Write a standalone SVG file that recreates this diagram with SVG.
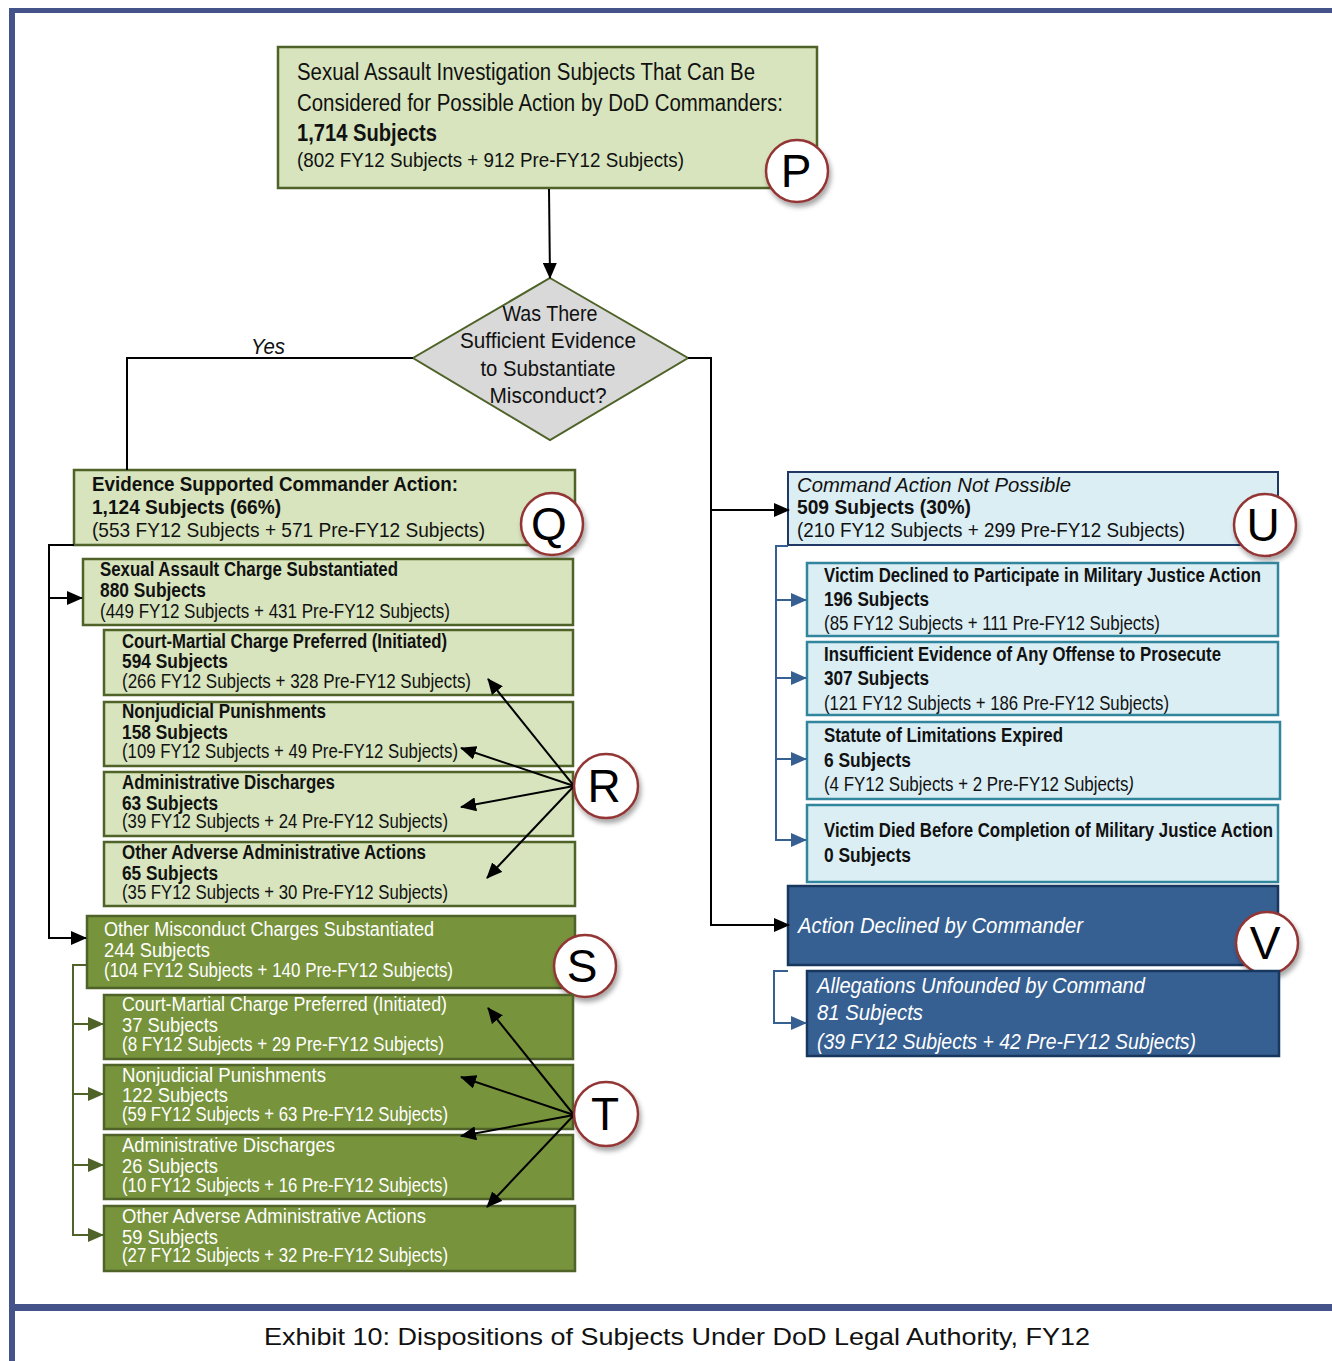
<svg xmlns="http://www.w3.org/2000/svg" width="1332" height="1361" viewBox="0 0 1332 1361">
<style>
text{font-family:"Liberation Sans",Arial,sans-serif;fill:#111;}
.lg{fill:#D7E4BD;stroke:#4F6228;stroke-width:2.5;}
.dg{fill:#77933C;stroke:#4F6228;stroke-width:2.5;}
.lb{fill:#DBEEF4;stroke:#31859C;stroke-width:2.5;}
.lbh{fill:#DBEEF4;stroke:#1F3864;stroke-width:2;}
.db{fill:#376092;stroke:#17375E;stroke-width:2.5;}
.w{fill:#fff;}
.b{font-weight:bold;}
.i{font-style:italic;}
.circ{fill:#fff;stroke:#943634;stroke-width:2.5;filter:url(#sh);}
.cl{font-size:46px;text-anchor:middle;fill:#000;}
.k{fill:none;stroke:#000;stroke-width:2;}
.g{fill:none;stroke:#4F6228;stroke-width:2;}
.bl{fill:none;stroke:#366092;stroke-width:2;}
</style>
<defs>
<filter id="sh" x="-30%" y="-30%" width="170%" height="170%">
<feDropShadow dx="2" dy="4" stdDeviation="2.5" flood-color="#000" flood-opacity="0.35"/>
</filter>
<marker id="ak" markerUnits="userSpaceOnUse" markerWidth="16" markerHeight="14" refX="15" refY="7" orient="auto"><path d="M0,0 L16,7 L0,14 Z" fill="#000"/></marker>
<marker id="ag" markerUnits="userSpaceOnUse" markerWidth="16" markerHeight="14" refX="15" refY="7" orient="auto"><path d="M0,0 L16,7 L0,14 Z" fill="#4F6228"/></marker>
<marker id="ab" markerUnits="userSpaceOnUse" markerWidth="16" markerHeight="14" refX="15" refY="7" orient="auto"><path d="M0,0 L16,7 L0,14 Z" fill="#366092"/></marker>
</defs>
<rect width="1332" height="1361" fill="#fff"/>
<!-- frame -->
<rect x="9" y="8" width="1323" height="5" fill="#44548B"/>
<rect x="9" y="8" width="6" height="1353" fill="#44548B"/>
<rect x="9" y="1304" width="1323" height="7" fill="#44548B"/>
<text x="677" y="1345" font-size="24" text-anchor="middle" textLength="826" lengthAdjust="spacingAndGlyphs">Exhibit 10:  Dispositions of Subjects Under DoD Legal Authority, FY12</text>

<g id="nodeP">
<rect class="lg" x="278" y="47" width="539" height="141"/>
<text x="297" y="80" font-size="23" textLength="458" lengthAdjust="spacingAndGlyphs">Sexual Assault  Investigation  Subjects  That Can Be</text>
<text x="297" y="111" font-size="23" textLength="486" lengthAdjust="spacingAndGlyphs">Considered for  Possible  Action  by DoD  Commanders:</text>
<text x="297" y="141" font-size="23" class="b" textLength="140" lengthAdjust="spacingAndGlyphs">1,714 Subjects</text>
<text x="297" y="167" font-size="21" textLength="387" lengthAdjust="spacingAndGlyphs">(802 FY12 Subjects + 912 Pre-FY12 Subjects)</text>
</g>
<g id="circleP"><circle class="circ" cx="797" cy="171" r="31"/><text class="cl" x="796" y="187">P</text></g>

<g id="decision">
<polygon points="550,278 688,358 550,440 413,358" fill="#D9D9D9" stroke="#4F6228" stroke-width="2"/>
<text x="550" y="321" font-size="22" text-anchor="middle" textLength="95" lengthAdjust="spacingAndGlyphs">Was There</text>
<text x="548" y="348" font-size="22" text-anchor="middle" textLength="176" lengthAdjust="spacingAndGlyphs">Sufficient Evidence</text>
<text x="548" y="376" font-size="22" text-anchor="middle" textLength="135" lengthAdjust="spacingAndGlyphs">to Substantiate</text>
<text x="548" y="403" font-size="22" text-anchor="middle" textLength="117" lengthAdjust="spacingAndGlyphs">Misconduct?</text>
</g>

<g id="nodeQ">
<rect class="lg" x="74" y="470" width="501" height="75"/>
<text x="92" y="491" font-size="21" class="b" textLength="366" lengthAdjust="spacingAndGlyphs">Evidence Supported Commander Action:</text>
<text x="92" y="514" font-size="21" class="b" textLength="189" lengthAdjust="spacingAndGlyphs">1,124 Subjects (66%)</text>
<text x="92" y="537" font-size="21" textLength="393" lengthAdjust="spacingAndGlyphs">(553 FY12 Subjects +  571 Pre-FY12 Subjects)</text>
</g>
<g id="circleQ"><circle class="circ" cx="552" cy="524" r="31"/><text class="cl" x="549" y="540">Q</text></g>

<g id="nodeSA">
<rect class="lg" x="83" y="559" width="490" height="66"/>
<text x="100" y="576" font-size="20" class="b" textLength="298" lengthAdjust="spacingAndGlyphs">Sexual Assault Charge Substantiated</text>
<text x="100" y="597" font-size="20" class="b" textLength="106" lengthAdjust="spacingAndGlyphs">880 Subjects</text>
<text x="100" y="618" font-size="20" textLength="350" lengthAdjust="spacingAndGlyphs">(449 FY12  Subjects + 431 Pre-FY12 Subjects)</text>
</g>

<g id="nodeR1">
<rect class="lg" x="104" y="630" width="469" height="65"/>
<text x="122" y="648" font-size="20" class="b" textLength="325" lengthAdjust="spacingAndGlyphs">Court-Martial Charge Preferred (Initiated)</text>
<text x="122" y="668" font-size="20" class="b" textLength="106" lengthAdjust="spacingAndGlyphs">594 Subjects</text>
<text x="122" y="688" font-size="20" textLength="349" lengthAdjust="spacingAndGlyphs">(266 FY12  Subjects + 328 Pre-FY12 Subjects)</text>
</g>
<g id="nodeR2">
<rect class="lg" x="104" y="702" width="469" height="64"/>
<text x="122" y="718" font-size="20" class="b" textLength="204" lengthAdjust="spacingAndGlyphs">Nonjudicial Punishments</text>
<text x="122" y="739" font-size="20" class="b" textLength="106" lengthAdjust="spacingAndGlyphs">158 Subjects</text>
<text x="122" y="758" font-size="20" textLength="336" lengthAdjust="spacingAndGlyphs">(109 FY12 Subjects + 49 Pre-FY12 Subjects)</text>
</g>
<g id="nodeR3">
<rect class="lg" x="104" y="772" width="469" height="64"/>
<text x="122" y="789" font-size="20" class="b" textLength="213" lengthAdjust="spacingAndGlyphs">Administrative Discharges</text>
<text x="122" y="810" font-size="20" class="b" textLength="96" lengthAdjust="spacingAndGlyphs">63 Subjects</text>
<text x="122" y="828" font-size="20" textLength="326" lengthAdjust="spacingAndGlyphs">(39 FY12 Subjects + 24 Pre-FY12 Subjects)</text>
</g>
<g id="nodeR4">
<rect class="lg" x="104" y="842" width="471" height="64"/>
<text x="122" y="859" font-size="20" class="b" textLength="304" lengthAdjust="spacingAndGlyphs">Other Adverse Administrative Actions</text>
<text x="122" y="880" font-size="20" class="b" textLength="96" lengthAdjust="spacingAndGlyphs">65 Subjects</text>
<text x="122" y="899" font-size="20" textLength="326" lengthAdjust="spacingAndGlyphs">(35 FY12 Subjects + 30 Pre-FY12 Subjects)</text>
</g>

<g id="nodeS">
<rect class="dg" x="87" y="916" width="488" height="72"/>
<text x="104" y="936" font-size="20" class="w" textLength="330" lengthAdjust="spacingAndGlyphs">Other Misconduct Charges Substantiated</text>
<text x="104" y="957" font-size="20" class="w" textLength="106" lengthAdjust="spacingAndGlyphs">244 Subjects</text>
<text x="104" y="977" font-size="20" class="w" textLength="349" lengthAdjust="spacingAndGlyphs">(104 FY12  Subjects + 140 Pre-FY12 Subjects)</text>
</g>
<g id="circleS"><circle class="circ" cx="585" cy="966" r="31"/><text class="cl" x="582" y="982">S</text></g>

<g id="nodeT1">
<rect class="dg" x="104" y="995" width="469" height="64"/>
<text x="122" y="1011" font-size="20" class="w" textLength="325" lengthAdjust="spacingAndGlyphs">Court-Martial Charge Preferred (Initiated)</text>
<text x="122" y="1032" font-size="20" class="w" textLength="96" lengthAdjust="spacingAndGlyphs">37 Subjects</text>
<text x="122" y="1051" font-size="20" class="w" textLength="322" lengthAdjust="spacingAndGlyphs">(8 FY12  Subjects + 29 Pre-FY12 Subjects)</text>
</g>
<g id="nodeT2">
<rect class="dg" x="104" y="1065" width="469" height="64"/>
<text x="122" y="1082" font-size="20" class="w" textLength="204" lengthAdjust="spacingAndGlyphs">Nonjudicial Punishments</text>
<text x="122" y="1102" font-size="20" class="w" textLength="106" lengthAdjust="spacingAndGlyphs">122 Subjects</text>
<text x="122" y="1121" font-size="20" class="w" textLength="326" lengthAdjust="spacingAndGlyphs">(59 FY12 Subjects + 63 Pre-FY12 Subjects)</text>
</g>
<g id="nodeT3">
<rect class="dg" x="104" y="1135" width="469" height="64"/>
<text x="122" y="1152" font-size="20" class="w" textLength="213" lengthAdjust="spacingAndGlyphs">Administrative Discharges</text>
<text x="122" y="1173" font-size="20" class="w" textLength="96" lengthAdjust="spacingAndGlyphs">26 Subjects</text>
<text x="122" y="1192" font-size="20" class="w" textLength="326" lengthAdjust="spacingAndGlyphs">(10 FY12 Subjects + 16 Pre-FY12 Subjects)</text>
</g>
<g id="nodeT4">
<rect class="dg" x="104" y="1206" width="471" height="65"/>
<text x="122" y="1223" font-size="20" class="w" textLength="304" lengthAdjust="spacingAndGlyphs">Other Adverse Administrative Actions</text>
<text x="122" y="1244" font-size="20" class="w" textLength="96" lengthAdjust="spacingAndGlyphs">59 Subjects</text>
<text x="122" y="1262" font-size="20" class="w" textLength="326" lengthAdjust="spacingAndGlyphs">(27 FY12 Subjects + 32 Pre-FY12 Subjects)</text>
</g>

<g id="nodeU">
<rect class="lbh" x="788" y="472" width="490" height="73"/>
<text x="797" y="492" font-size="21" class="i" textLength="274" lengthAdjust="spacingAndGlyphs">Command Action Not Possible</text>
<text x="797" y="514" font-size="21" class="b" textLength="174" lengthAdjust="spacingAndGlyphs">509 Subjects (30%)</text>
<text x="797" y="537" font-size="21" textLength="388" lengthAdjust="spacingAndGlyphs">(210 FY12 Subjects + 299 Pre-FY12 Subjects)</text>
</g>
<g id="circleU"><circle class="circ" cx="1265" cy="525" r="31"/><text class="cl" x="1263" y="541">U</text></g>

<g id="nodeU1">
<rect class="lb" x="807" y="563" width="471" height="73"/>
<text x="824" y="582" font-size="20" class="b" textLength="437" lengthAdjust="spacingAndGlyphs">Victim Declined to Participate in Military Justice Action</text>
<text x="824" y="606" font-size="20" class="b" textLength="105" lengthAdjust="spacingAndGlyphs">196 Subjects</text>
<text x="824" y="630" font-size="20" textLength="336" lengthAdjust="spacingAndGlyphs">(85 FY12 Subjects + 111 Pre-FY12 Subjects)</text>
</g>
<g id="nodeU2">
<rect class="lb" x="807" y="642" width="471" height="73"/>
<text x="824" y="661" font-size="20" class="b" textLength="397" lengthAdjust="spacingAndGlyphs">Insufficient Evidence of Any Offense to Prosecute</text>
<text x="824" y="685" font-size="20" class="b" textLength="105" lengthAdjust="spacingAndGlyphs">307 Subjects</text>
<text x="824" y="710" font-size="20" textLength="345" lengthAdjust="spacingAndGlyphs">(121 FY12 Subjects + 186 Pre-FY12 Subjects)</text>
</g>
<g id="nodeU3">
<rect class="lb" x="807" y="722" width="473" height="77"/>
<text x="824" y="742" font-size="20" class="b" textLength="239" lengthAdjust="spacingAndGlyphs">Statute of Limitations Expired</text>
<text x="824" y="767" font-size="20" class="b" textLength="87" lengthAdjust="spacingAndGlyphs">6 Subjects</text>
<text x="824" y="791" font-size="20" textLength="310" lengthAdjust="spacingAndGlyphs">(4 FY12 Subjects + 2 Pre-FY12 Subjects<tspan class="i">)</tspan></text>
</g>
<g id="nodeU4">
<rect class="lb" x="807" y="805" width="471" height="77"/>
<text x="824" y="837" font-size="20" class="b" textLength="449" lengthAdjust="spacingAndGlyphs">Victim Died Before Completion of Military Justice Action</text>
<text x="824" y="862" font-size="20" class="b" textLength="87" lengthAdjust="spacingAndGlyphs">0 Subjects</text>
</g>

<g id="nodeV">
<rect class="db" x="788" y="886" width="490" height="79"/>
<text x="798" y="933" font-size="22" class="w i" textLength="285" lengthAdjust="spacingAndGlyphs">Action Declined by Commander</text>
</g>
<g id="circleV"><circle class="circ" cx="1267" cy="943" r="31"/><text class="cl" x="1265" y="959">V</text></g>

<g id="nodeV1">
<rect class="db" x="807" y="971" width="472" height="85"/>
<text x="817" y="993" font-size="22" class="w i" textLength="328" lengthAdjust="spacingAndGlyphs">Allegations Unfounded by Command</text>
<text x="817" y="1020" font-size="22" class="w i" textLength="106" lengthAdjust="spacingAndGlyphs">81 Subjects</text>
<text x="817" y="1049" font-size="22" class="w i" textLength="379" lengthAdjust="spacingAndGlyphs">(39 FY12 Subjects + 42 Pre-FY12 Subjects)</text>
</g>

<g id="connectors">
<path class="k" d="M549,189 L550,278" marker-end="url(#ak)"/>
<path class="k" d="M413,358 L127,358 L127,470"/>
<path class="k" d="M688,358 L711,358 L711,925 L789,925" marker-end="url(#ak)"/>
<path class="k" d="M711,510 L789,510" marker-end="url(#ak)"/>
<path class="k" d="M74,545 L49,545 L49,938 L86,938" marker-end="url(#ak)"/>
<path class="k" d="M49,598 L82,598" marker-end="url(#ak)"/>
<path class="k" d="M574,786 L488,679" marker-end="url(#ak)"/>
<path class="k" d="M574,786 L461,748" marker-end="url(#ak)"/>
<path class="k" d="M574,786 L461,807" marker-end="url(#ak)"/>
<path class="k" d="M574,786 L487,878" marker-end="url(#ak)"/>
<path class="g" d="M87,965 L73,965 L73,1235 L103,1235" marker-end="url(#ag)"/>
<path class="g" d="M73,1024 L103,1024" marker-end="url(#ag)"/>
<path class="g" d="M73,1094 L103,1094" marker-end="url(#ag)"/>
<path class="g" d="M73,1165 L103,1165" marker-end="url(#ag)"/>
<path class="k" d="M574,1115 L488,1008" marker-end="url(#ak)"/>
<path class="k" d="M574,1115 L461,1077" marker-end="url(#ak)"/>
<path class="k" d="M574,1115 L461,1136" marker-end="url(#ak)"/>
<path class="k" d="M574,1115 L487,1207" marker-end="url(#ak)"/>
<path class="bl" d="M788,546 L776,546 L776,840 L806,840" marker-end="url(#ab)"/>
<path class="bl" d="M776,600 L806,600" marker-end="url(#ab)"/>
<path class="bl" d="M776,678 L806,678" marker-end="url(#ab)"/>
<path class="bl" d="M776,759 L806,759" marker-end="url(#ab)"/>
<path class="bl" d="M788,971 L774,971 L774,1023 L806,1023" marker-end="url(#ab)"/>
<text x="251" y="354" font-size="22" class="i" textLength="34" lengthAdjust="spacingAndGlyphs">Yes</text>
</g>

<g id="circleR"><circle class="circ" cx="606" cy="786" r="32"/><text class="cl" x="604" y="802">R</text></g>
<g id="circleT"><circle class="circ" cx="606" cy="1114" r="32"/><text class="cl" x="605" y="1130">T</text></g>
</svg>
